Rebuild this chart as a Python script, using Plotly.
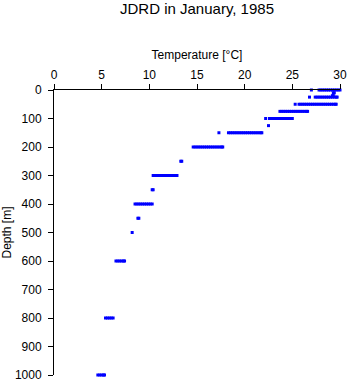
import plotly.graph_objects as go

# Observed temperatures (°C) grouped by standard sampling depth (m)
depths = [0, 10, 20, 25, 50, 75, 100, 125, 150, 200, 250, 300, 350, 400, 450, 500, 600, 800, 1000]

temps_0 = [27.0, 27.8, 28.0, 28.2, 28.4, 28.6, 28.8, 29.0, 29.2, 29.4, 29.6, 29.8, 30.0]
temps_10 = [29.3, 29.4]
temps_20 = [29.2, 29.3]
temps_25 = [26.8, 27.4, 27.6, 27.8, 28.0, 28.2, 28.4, 28.6, 28.8, 29.0, 29.2,
            29.4, 29.6, 29.7]
temps_50 = [25.3, 25.7, 25.9, 26.1, 26.3, 26.5, 26.7, 26.9, 27.1, 27.3, 27.5,
            27.7, 27.9, 28.1, 28.3, 28.5, 28.7, 28.9, 29.1, 29.3, 29.5, 29.6]
temps_75 = [23.7, 23.9, 24.1, 24.3, 24.5, 24.7, 24.9, 25.1, 25.3, 25.5, 25.7,
            25.9, 26.1, 26.3, 26.5, 26.6]
temps_100 = [22.2, 22.6, 22.8, 23.0, 23.2, 23.4, 23.6, 23.8, 24.0, 24.2, 24.4,
             24.6, 24.8, 25.0]
temps_125 = [22.5]
temps_150 = [17.3, 18.3, 18.5, 18.7, 18.9, 19.1, 19.3, 19.5, 19.7, 19.9, 20.1,
             20.3, 20.5, 20.7, 20.9, 21.1, 21.3, 21.5, 21.7, 21.8]
temps_200 = [14.6, 14.8, 15.0, 15.2, 15.4, 15.6, 15.8, 16.0, 16.2, 16.4, 16.6,
             16.8, 17.0, 17.2, 17.4, 17.6, 17.7]
temps_250 = [13.3, 13.4]
temps_300 = [10.4, 10.6, 10.8, 11.0, 11.2, 11.4, 11.6, 11.8, 12.0, 12.2, 12.4,
             12.6, 12.8, 12.9]
temps_350 = [10.3, 10.4]
temps_400 = [8.5, 8.7, 8.9, 9.1, 9.3, 9.5, 9.7, 9.9, 10.1, 10.3]
temps_450 = [8.8, 8.9]
temps_500 = [8.2]
temps_600 = [6.5, 6.7, 6.9, 7.1, 7.3, 7.4]
temps_800 = [5.4, 5.6, 5.8, 6.0, 6.2]
temps_1000 = [4.6, 4.8, 5.0, 5.2, 5.3]

temps_by_depth = [temps_0, temps_10, temps_20, temps_25, temps_50, temps_75,
                  temps_100, temps_125, temps_150, temps_200, temps_250, temps_300,
                  temps_350, temps_400, temps_450, temps_500, temps_600, temps_800,
                  temps_1000]

xs, ys = [], []
for d, temps in zip(depths, temps_by_depth):
    for t in temps:
        xs.append(t)
        ys.append(d)

fig = go.Figure()
fig.add_trace(go.Scatter(
    x=xs, y=ys, mode="markers",
    marker=dict(symbol="square", size=3, color="#0000ff", line=dict(width=0)),
    cliponaxis=False, showlegend=False, hoverinfo="x+y",
))

axis_font = dict(family="Liberation Sans, Arial, sans-serif", size=12, color="black")

fig.update_layout(
    width=348, height=384, autosize=False,
    margin=dict(l=54, r=8, t=90, b=9, pad=0),
    paper_bgcolor="white", plot_bgcolor="white",
    font=axis_font,
    title=dict(text="JDRD in January, 1985", x=0.5, xref="paper",
               y=1 - 9 / 384, yref="container", yanchor="middle",
               font=dict(family="Liberation Sans, Arial, sans-serif", size=15, color="black")),
    xaxis=dict(
        side="top", range=[0, 30], dtick=5, tick0=0, automargin=False,
        showline=True, linecolor="black", linewidth=1,
        ticks="outside", ticklen=5, tickcolor="black", tickwidth=1,
        showgrid=False, zeroline=False, tickfont=axis_font,
        title=dict(text="Temperature [°C]", font=axis_font, standoff=6),
    ),
    yaxis=dict(
        range=[1000, 0], dtick=100, tick0=0, automargin=False,
        showline=True, linecolor="black", linewidth=1,
        ticks="outside", ticklen=5, tickcolor="black", tickwidth=1,
        showgrid=False, zeroline=False, tickfont=axis_font,
        ticklabelstandoff=4,
        title=dict(text="Depth [m]", font=axis_font, standoff=6),
    ),
)

fig.write_html("out.html")
